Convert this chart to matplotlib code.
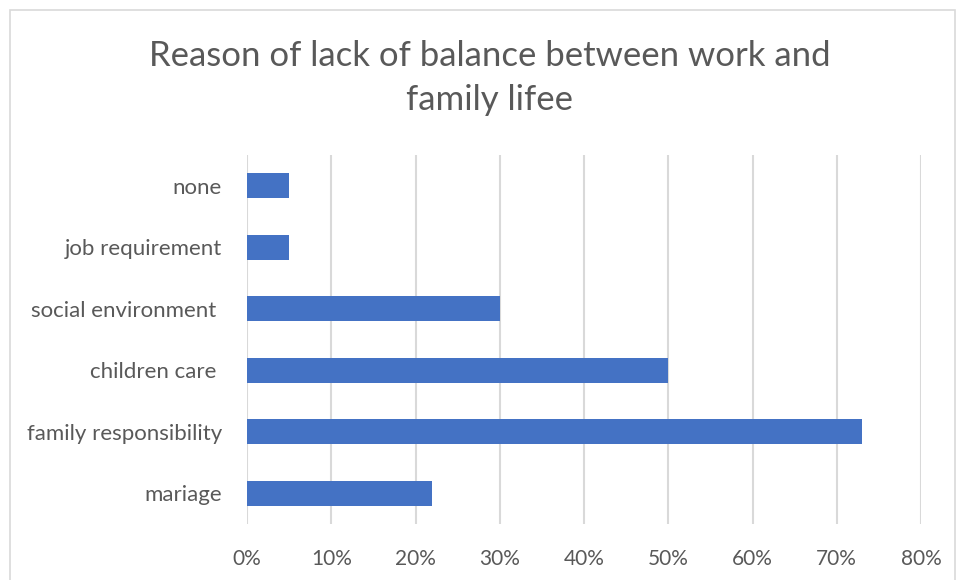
import matplotlib.pyplot as plt
from matplotlib.patches import Rectangle
from matplotlib.ticker import FuncFormatter

categories = ["mariage", "family responsibility", "children care ", "social environment ",
              "job requirement", "none"]
values = [22, 73, 50, 30, 5, 5]
xticks = [0, 10, 20, 30, 40, 50, 60, 70, 80]

plt.rcParams['font.family'] = ['Lato', 'DejaVu Sans']
text_color = '#595959'
bar_color = '#4472C4'

fig = plt.figure(figsize=(9.58, 5.8), dpi=100)
W, H = 958, 580
ax = fig.add_axes([247 / W, 1 - 524 / H, (921 - 247) / W, (524 - 155) / H])

ax.barh(range(len(categories)), values, height=0.4, color=bar_color, zorder=3)
ax.set_ylim(-0.5, len(categories) - 0.5)
ax.set_xlim(0, 80)
ax.set_xticks(xticks)
ax.xaxis.set_major_formatter(FuncFormatter(lambda v, p: f"{int(v)}%"))
ax.set_yticks(range(len(categories)))
ax.set_yticklabels(categories)

ax.grid(axis='x', color='#D9D9D9', linewidth=1.5, zorder=0)
for s in ax.spines.values():
    s.set_visible(False)
ax.tick_params(axis='both', length=0, labelcolor=text_color)
ax.tick_params(axis='x', pad=18, labelsize=15)
ax.tick_params(axis='y', pad=18, labelsize=16)

fig.text(490 / W, 1 - 78 / H, "Reason of lack of balance between work and\nfamily lifee",
         ha='center', va='center', fontsize=25, color=text_color, linespacing=1.5)

fig.patches.append(Rectangle((10 / W, -0.1), 945 / W, 1 - 10 / H + 0.1,
                             transform=fig.transFigure, fill=False,
                             edgecolor='#D9D9D9', linewidth=1.2))

fig.savefig("out.png", dpi=100)
